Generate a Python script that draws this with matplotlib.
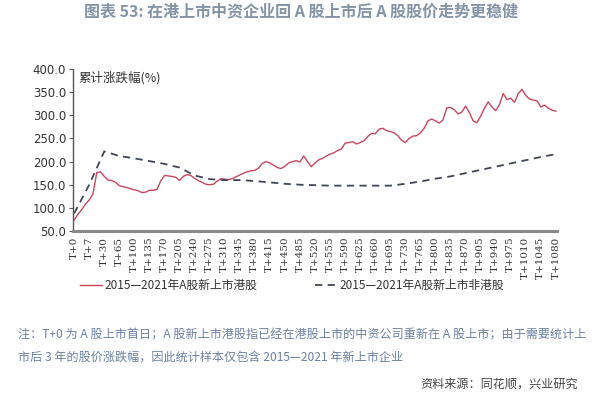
import matplotlib
matplotlib.use("Agg")
import matplotlib.pyplot as plt
import numpy as np

plt.rcParams['font.family'] = ['Noto Sans CJK SC', 'DejaVu Sans']

tick_labels = ["T+0", "T+7", "T+30", "T+65", "T+100", "T+135", "T+170", "T+205", "T+240",
               "T+275", "T+310", "T+345", "T+380", "T+415", "T+450", "T+485", "T+520",
               "T+555", "T+590", "T+625", "T+660", "T+695", "T+730", "T+765", "T+800",
               "T+835", "T+870", "T+905", "T+940", "T+975", "T+1010", "T+1045", "T+1080"]

# 2015-2021 A-share newly listed HK stocks (4 observations per label interval)
hk_values = [74, 86, 96, 108, 117, 130, 176, 178, 168, 160,
             159, 155, 148, 145.5, 144, 141, 139, 137, 133, 134,
             138, 138, 140, 158, 170, 169, 168, 166, 159, 168,
             172, 170, 164, 159, 155, 151, 150, 151, 158, 163,
             162, 161, 163, 167, 171, 175, 178, 180, 181, 186,
             196, 200, 197, 192, 187, 185, 190, 197, 200, 202,
             199, 212, 200, 189, 197, 204, 207, 212, 216, 219,
             224, 227, 240, 241, 243, 238, 241, 245, 254, 261,
             260, 270, 272, 267, 265, 262, 256, 246, 241, 250,
             255, 256, 262, 272, 288, 292, 288, 283, 290, 316,
             317, 312, 303, 307, 320, 306, 288, 284, 298, 315,
             329, 318, 310, 323, 347, 334, 337, 328, 347, 356,
             343, 335, 333, 331, 318, 322, 315, 311, 309]

# 2015-2021 A-share newly listed non-HK stocks (value at each label)
nonhk_values = [88, 150, 222, 212, 207, 201, 195, 187, 170, 162, 160, 160, 158,
                155, 152, 150, 149, 148, 148, 148, 148, 148, 152, 157, 163, 168,
                175, 182, 189, 196, 203, 210, 216]

pts_per_label = 4
x_hk = np.arange(len(hk_values))
x_nonhk = np.arange(len(nonhk_values)) * pts_per_label

fig = plt.figure(figsize=(6.02, 3.98), dpi=100)
ax = fig.add_axes([0.1213, 0.4196, 0.804, 0.407])

ax.plot(x_hk, hk_values, color='#c8475c', lw=1.0, label='2015—2021年A股新上市港股')
ax.plot(x_nonhk, nonhk_values, color='#3f4656', lw=1.3, ls=(0, (4, 3)),
        label='2015—2021年A股新上市非港股')

ax.set_ylim(50, 400)
ax.set_yticks(np.arange(50, 401, 50))
ax.set_yticklabels([f"{v:.1f}" for v in np.arange(50, 401, 50)], fontsize=8.5,
                   color='#333333', family=['DejaVu Sans'])
ax.set_xlim(-0.3, x_hk[-1] + 0.3)
ax.set_xticks(x_nonhk)
ax.set_xticklabels(tick_labels, rotation=90, fontsize=7.5, color='#333333',
                   family=['DejaVu Serif'])
ax.tick_params(axis='x', length=0, pad=4)
ax.tick_params(axis='y', length=3, width=0.8, color='#555555', pad=2)

for s in ['top', 'right']:
    ax.spines[s].set_visible(False)
ax.spines['left'].set_color('#555555')
ax.spines['left'].set_linewidth(1.0)
ax.spines['bottom'].set_color('#8a8a8a')
ax.spines['bottom'].set_linewidth(2.2)

ax.text(0.012, 0.985, '累计涨跌幅(%)', transform=ax.transAxes, ha='left', va='top',
        fontsize=9, color='#333333')

leg = fig.legend(loc='center', bbox_to_anchor=(0.485, 0.283), ncol=2, frameon=False,
                 fontsize=8.5, handlelength=1.9, handletextpad=0.2, columnspacing=4.9)
for t in leg.get_texts():
    t.set_color('#333333')

fig.text(0.5, 0.972, '图表 53: 在港上市中资企业回 A 股上市后 A 股股价走势更稳健',
         ha='center', va='center', fontsize=11.5, fontweight='bold', color='#8393a8')

note1 = '注：T+0 为 A 股上市首日；A 股新上市港股指已经在港股上市的中资公司重新在 A 股上市；由于需要统计上'
note2 = '市后 3 年的股价涨跌幅，因此统计样本仅包含 2015—2021 年新上市企业'
fig.text(0.03, 0.158, note1, ha='left', va='center', fontsize=8.7, color='#6b80a3')
fig.text(0.03, 0.103, note2, ha='left', va='center', fontsize=8.7, color='#6b80a3')
fig.text(0.96, 0.035, '资料来源：同花顺，兴业研究', ha='right', va='center',
         fontsize=8.7, color='#444444')

fig.savefig('out.png', dpi=100)
